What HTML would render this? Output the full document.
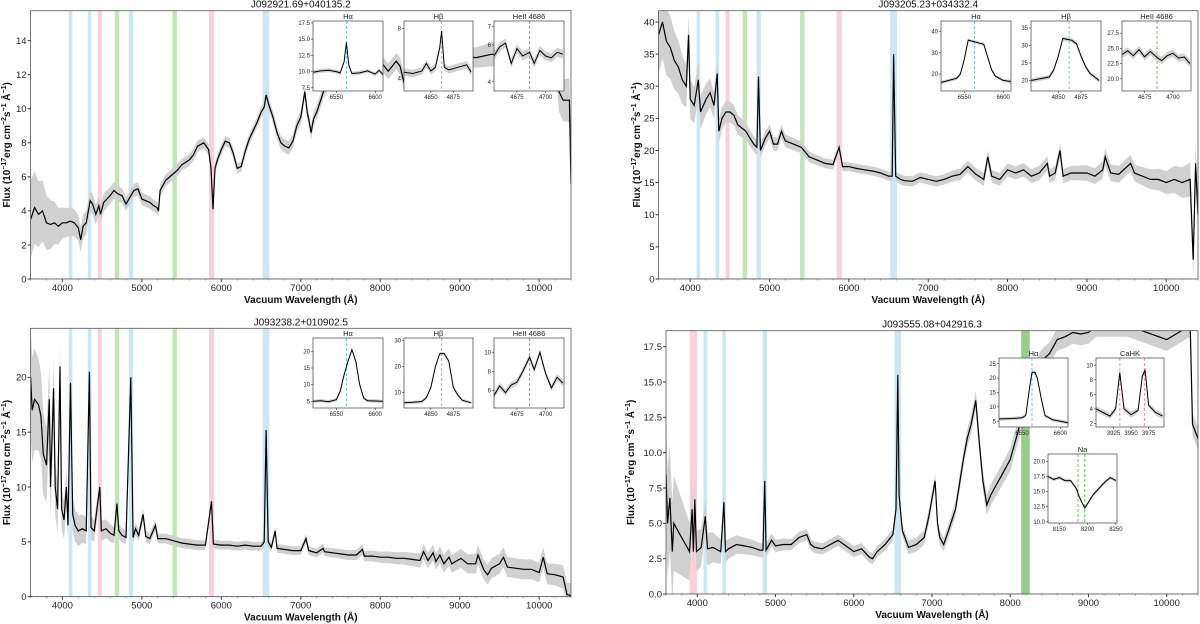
<!DOCTYPE html>
<html><head><meta charset="utf-8"><style>
body{margin:0;background:#fff}
svg{display:block;font-family:"Liberation Sans","DejaVu Sans",sans-serif}
</style></head><body>
<svg id="fig" width="1200" height="624" viewBox="0 0 1200 624"></svg>
<script>
// ---------- DATA ----------
const wl1=[3600,3650,3700,3750,3800,3850,3900,3950,4000,4050,4100,4150,4200,4230,4260,4300,4350,4380,4420,4460,4480,4520,4600,4650,4700,4750,4800,4850,4900,4950,5000,5100,5150,5190,5210,5230,5300,5400,5450,5500,5600,5650,5700,5780,5840,5870,5895,5920,5950,6000,6050,6100,6150,6200,6250,6300,6350,6400,6450,6500,6540,6563,6600,6650,6700,6750,6800,6850,6900,6950,7000,7050,7080,7100,7130,7160,7200,7250,7300,7400,7500,7600,7800,8000,8100,8200,8250,8300,8320,8400,8600,8800,9000,9200,9400,9600,9800,10000,10200,10250,10300,10380,10400];
const fl1=[3.5,4.2,3.8,4.0,3.3,3.2,3.3,3.1,3.3,3.3,3.4,3.3,3.0,2.3,3.1,3.3,4.6,4.4,3.8,4.3,3.8,4.5,4.9,5.2,5.0,4.9,4.4,4.8,5.2,5.3,4.7,4.5,4.3,4.2,4.0,5.2,5.8,6.2,6.4,6.7,7.0,7.3,7.8,8.0,7.6,6.5,4.1,6.5,7.0,7.6,8.1,8.0,7.4,6.5,6.6,7.5,8.2,8.7,9.2,9.8,10.1,10.8,10.2,9.5,8.6,8.0,7.8,7.7,8.1,9.0,9.5,11.0,9.8,9.4,8.6,9.4,9.8,10.5,11.2,12.0,12.3,12.6,12.5,12.8,12.2,12.8,12.5,11.5,12.8,13.0,12.8,13.0,13.2,13.0,13.2,13.2,13.5,13.8,13.5,11.0,10.5,10.5,5.6];
const err1=[2.3,0.9,0.6,0.4,0.35,0.35,0.3,0.3,0.4,0.4,0.45,0.45,0.5,0.6,0.6,0.8,1.0,1.3];

const wl2=[3600,3650,3700,3750,3800,3850,3900,3950,3980,4000,4050,4102,4130,4200,4250,4300,4340,4360,4400,4450,4500,4550,4600,4650,4700,4750,4800,4840,4861,4885,4950,5000,5050,5100,5150,5180,5200,5300,5400,5500,5600,5700,5800,5876,5920,6000,6100,6200,6300,6400,6500,6545,6563,6590,6650,6700,6800,6900,7000,7100,7200,7300,7400,7500,7600,7700,7750,7800,7900,8000,8100,8200,8300,8400,8500,8530,8600,8660,8700,8800,9000,9100,9200,9230,9300,9400,9550,9600,9700,9800,9900,10000,10100,10200,10300,10340,10370,10400];
const fl2=[38,40,37,36,34,33,31,30,38,28,27,31,26,28,29,27,32,23,25,26,26,25.5,24,23.5,23,22,21,20.5,31.5,20,22,23,21,21,23,22,21.5,21,20.5,19,18.5,18,17.8,20.5,17.5,17.5,17.2,17,16.8,16.5,16,16,35,16,15.5,15.3,15.2,15.8,15.5,15.2,15.5,16,16.3,17.5,16.3,15.5,19,16,15.5,17,16.5,17,16,16.5,18,16,16.5,20,16,16.5,16.5,16,17,19,16.5,16.3,18,16.5,16,15.5,15.5,15,15.5,15,15.5,3,18,10];
const err2=[6,3,1.8,1.2,1.0,0.8,0.7,0.7,0.8,0.8,1.0,1.0,1.1,1.1,1.3,1.3,1.8,3];

const wl3=[3600,3620,3650,3700,3730,3760,3800,3835,3850,3890,3910,3940,3970,3990,4020,4050,4070,4102,4130,4160,4200,4250,4300,4340,4360,4400,4471,4490,4550,4600,4650,4686,4710,4750,4800,4861,4890,4920,4960,5015,5050,5100,5170,5200,5300,5400,5500,5600,5700,5800,5876,5900,6000,6100,6200,6300,6400,6500,6540,6563,6590,6630,6678,6700,6800,6900,7000,7065,7100,7200,7280,7300,7400,7500,7600,7700,7775,7800,7900,8000,8100,8200,8300,8400,8500,8545,8600,8665,8700,8750,8800,8865,8900,9015,9100,9200,9230,9300,9350,9400,9500,9550,9600,9700,9800,9900,10000,10050,10100,10200,10300,10350,10400];
const fl3=[20,17,18,17.5,16.5,13,12,18,10,19,10,8,21,8,7,10,6.5,19.5,7.5,6.5,6.0,6.2,6.0,20.5,6.3,6.0,10,6,6.2,5.8,5.6,8.5,6,5.6,5.4,20,5.4,6.2,5.6,7.5,5.5,5.3,6.5,5.3,5.3,5.1,4.9,4.8,4.7,4.7,8.7,4.8,4.7,4.7,4.6,4.7,4.6,4.6,5,15.2,5,4.5,6.0,4.4,4.3,4.2,4.2,5.3,4.2,4.0,4.4,4.1,4.0,3.9,3.8,3.8,4.3,3.7,3.7,3.6,3.6,3.5,3.5,3.4,3.3,4.1,3.3,4.0,3.2,3.8,3.0,3.6,3.0,3.5,3.0,3.0,3.8,2.5,2.0,2.6,3.0,3.6,2.7,2.6,2.5,2.5,2.2,3.6,2.1,2.0,1.8,0.2,0.1];
const err3=[5,1.8,1.0,0.6,0.45,0.45,0.4,0.4,0.4,0.4,0.45,0.5,0.6,0.8,0.9,0.9,0.9,1.1];

const wl4=[3600,3620,3650,3680,3700,3750,3800,3850,3900,3934,3950,3968,3990,4050,4102,4130,4200,4300,4340,4360,4400,4500,4600,4700,4800,4840,4861,4880,4950,5000,5100,5200,5300,5400,5450,5500,5600,5700,5800,5900,6000,6100,6200,6240,6300,6400,6500,6540,6563,6580,6620,6700,6800,6900,6960,7040,7070,7100,7150,7200,7300,7400,7450,7500,7560,7600,7650,7700,7750,7800,7900,8000,8050,8100,8200,8300,8400,8500,8600,8700,8800,8900,9000,9100,9500,10000,10300,10330,10400];
const fl4=[8.5,5.0,6.8,3.0,5,4.5,4,3.5,3.0,6.0,3.0,6.7,3.0,3.3,5.5,3.2,3.3,3.0,6.5,3.0,3.2,3.5,3.4,3.3,3.1,3.1,8,3.1,3.8,3.4,3.5,3.5,4.0,4.2,3.5,3.3,3.2,3.5,3.8,3.4,3.0,3.2,2.6,2.5,3.0,3.5,4.2,6,15.5,7,4.5,3.3,3.5,4.0,5.5,8.0,5.0,4.0,3.5,4.3,6.0,9.5,11,12,13.7,11,8.0,6.3,7.0,7.5,8.5,9.5,10.5,11.5,14,15.5,16.5,17,18,18.2,18.5,18.4,18.5,19,19,18.0,19,12,11];
const err4=[4,1.4,0.7,0.5,0.4,0.4,0.4,0.4,0.5,0.5,0.7,0.8,0.8,0.8,0.8,0.8,0.8,0.8];

// inset data
const haX1=[6520,6530,6540,6550,6555,6560,6563,6566,6570,6580,6590,6600,6605,6610];
const haY1=[9.9,10.1,10.2,10.0,9.8,11.5,14.5,11.0,9.7,9.8,10.1,9.6,10.2,9.5];
const hbX1=[4820,4830,4840,4845,4850,4855,4860,4862,4865,4870,4880,4890,4895];
const hbY1=[4.5,4.4,4.6,5.2,4.6,4.9,6.5,7.8,4.9,4.7,4.9,5.1,4.5];
const heX1=[4655,4660,4665,4670,4675,4680,4686,4690,4695,4700,4705,4710,4715];
const heY1=[5.4,5.9,6.1,5.0,5.8,5.4,5.6,5.0,5.7,5.4,5.3,5.6,5.5];

const haX2=[6520,6530,6540,6545,6550,6555,6565,6575,6580,6585,6590,6600,6610];
const haY2=[16,17,18,20,27,36,35,34,28,22,19,17,16.5];
const hbX2=[4820,4830,4840,4845,4850,4855,4865,4870,4875,4880,4885,4895];
const hbY2=[20,20.5,21,23,27,32,31.5,30.5,27,24,22,20];
const heX2=[4655,4660,4665,4670,4675,4680,4686,4690,4695,4700,4705,4710,4715];
const heY2=[24,24.6,23.8,24.8,23.6,24.5,23.5,23.0,23.8,24.2,23.4,23.6,22.5];

const haX3=[6520,6530,6540,6550,6555,6560,6565,6570,6575,6580,6585,6590,6600,6610];
const haY3=[5,5.2,4.9,5.5,8,13,17,20.5,17,10,6,5.2,5.1,5.0];
const hbX3=[4820,4830,4840,4845,4850,4855,4860,4865,4870,4875,4880,4885,4895];
const hbY3=[6,6.2,6.5,8,12,20,25,25,22,12,9,7,6];
const heX3=[4655,4660,4665,4670,4675,4680,4686,4690,4695,4700,4705,4710,4715];
const heY3=[5.5,6.5,5.8,6.6,6.9,8.0,9.5,8.2,10.0,7.8,6.3,7.4,6.8];

const haX4=[6520,6530,6540,6550,6555,6560,6563,6567,6570,6575,6580,6590,6600,6610];
const haY4=[5.8,5.9,6.0,6.2,7,17,22,22,20,13,7,5.5,5.0,4.5];
const ckX4=[3900,3910,3920,3928,3934,3940,3950,3960,3966,3970,3975,3985,3995];
const ckY4=[4,3.5,3.0,4.0,9.0,4.0,3.2,3.8,8.5,9.3,4.5,3.5,3.0];
const naX4=[8130,8140,8150,8160,8170,8180,8185,8190,8195,8200,8210,8220,8230,8240,8250];
const naY4=[17.5,17.0,17.3,16.8,16.8,15.5,14.2,13.2,12.3,13.0,14.5,15.5,16.5,17.3,16.8];

const bandsA=[[4080,4125,'b'],[4320,4365,'b'],[4445,4495,'p'],[4660,4715,'g'],[4835,4890,'b'],[5385,5440,'g'],[5845,5910,'p'],[6520,6605,'b']];
const bandsB=[[3905,3995,'p'],[4080,4125,'b'],[4320,4365,'b'],[4835,4890,'b'],[6520,6605,'b'],[8140,8250,'G']];

// ---------- RENDER ----------
const NS='http://www.w3.org/2000/svg';
const svg=document.getElementById('fig');
function mk(tag,attrs,parent){const e=document.createElementNS(NS,tag);for(const k in attrs)e.setAttribute(k,attrs[k]);(parent||svg).appendChild(e);return e;}
const bandCol={b:'rgb(205,230,242)',p:'rgb(250,208,218)',g:'rgb(196,228,184)',G:'rgb(150,206,140)'};

function errAt(err,w){const i=(w-3600)/400;const a=Math.max(0,Math.min(17,Math.floor(i)));const b=Math.min(17,a+1);const t=Math.max(0,Math.min(1,i-a));return err[a]*(1-t)+err[b]*t;}

function panel(p){
  const g=mk('g',{});
  
  
  const X=w=>p.L+(w-3600)/(6800)*(p.R-p.L);
  const Y=f=>p.B-f/p.ymax*(p.B-p.T);
  const cid='c'+p.name;
  const cp=mk('clipPath',{id:cid},g);mk('rect',{x:p.L,y:p.T,width:p.R-p.L,height:p.B-p.T},cp);
  const inner=mk('g',{'clip-path':'url(#'+cid+')'},g);
  for(const b of p.bands){const r=mk('rect',{x:X(b[0]),y:p.T,width:X(b[1])-X(b[0]),height:p.B-p.T,fill:bandCol[b[2]]},inner);
    
    }
  let up=[],lo=[];
  p.wl.forEach((w,i)=>{const e=errAt(p.err,w);up.push(X(w).toFixed(1)+','+Y(p.fl[i]+e).toFixed(1));lo.push(X(w).toFixed(1)+','+Y(Math.max(-1,p.fl[i]-e)).toFixed(1));});
  const eb=mk('polygon',{points:up.concat(lo.reverse()).join(' '),fill:'#d0d0d0'},inner);
  
  
  const ln=mk('polyline',{points:p.wl.map((w,i)=>X(w).toFixed(1)+','+Y(p.fl[i]).toFixed(1)).join(' '),fill:'none',stroke:'#000','stroke-width':1.2},inner);
  
  
  mk('line',{x1:p.L,x2:p.R,y1:Y(0),y2:Y(0),stroke:'#4a7bb0','stroke-width':1,'stroke-dasharray':'3,2'},inner);
  mk('rect',{x:p.L,y:p.T,width:p.R-p.L,height:p.B-p.T,fill:'none',stroke:'#555','stroke-width':0.8},g);
  for(let w=4000;w<=10000;w+=1000){mk('line',{x1:X(w),x2:X(w),y1:p.B,y2:p.B+3,stroke:'#333'},g);
    const t=mk('text',{x:X(w),y:p.B+12,'font-size':9.5,'text-anchor':'middle',fill:'#222'},g);t.textContent=w;}
  for(let w=3600;w<=10400;w+=200){mk('line',{x1:X(w),x2:X(w),y1:p.B,y2:p.B+1.5,stroke:'#555','stroke-width':0.5},g);}
  for(const v of p.yt){mk('line',{x1:p.L-3,x2:p.L,y1:Y(v),y2:Y(v),stroke:'#333'},g);
    const t=mk('text',{x:p.L-4,y:Y(v)+3.3,'font-size':9.5,'text-anchor':'end',fill:'#222'},g);t.textContent=p.yfmt(v);}
  const xl=mk('text',{x:(p.L+p.R)/2,y:p.B+24,'font-size':10,'font-weight':'bold','text-anchor':'middle',fill:'#111'},g);
  xl.textContent='Vacuum Wavelength (Å)';
  
  
  const yl=mk('text',{x:0,y:0,'font-size':10,'font-weight':'bold','text-anchor':'middle',fill:'#111',transform:'translate('+p.yx+','+((p.T+p.B)/2)+') rotate(-90)'},g);
  yl.innerHTML='Flux (10<tspan dy="-4" font-size="7">−17</tspan><tspan dy="4">erg cm</tspan><tspan dy="-4" font-size="7">−2</tspan><tspan dy="4">s</tspan><tspan dy="-4" font-size="7">−1</tspan><tspan dy="4"> Å</tspan><tspan dy="-4" font-size="7">−1</tspan><tspan dy="4">)</tspan>';
  
  
  const tt=mk('text',{x:(p.L+p.R)/2,y:p.T-3,'font-size':10,'text-anchor':'middle',fill:'#111'},g);
  tt.textContent=p.title;
  
  
  for(const ins of p.insets) inset(ins,g);
}

function inset(s,parent){
  const g=mk('g',{},parent);
  
  
  const [x0,y0,x1,y1]=s.box;
  const X=w=>x0+(w-s.xr[0])/(s.xr[1]-s.xr[0])*(x1-x0);
  const Y=f=>y1-(f-s.yr[0])/(s.yr[1]-s.yr[0])*(y1-y0);
  mk('rect',{x:x0,y:y0,width:x1-x0,height:y1-y0,fill:'#fff'},g);
  const band=s.xs.map((w,i)=>X(w).toFixed(1)+','+Y(s.ys[i]+s.e).toFixed(1)).concat(s.xs.map((w,i)=>X(w).toFixed(1)+','+Y(s.ys[i]-s.e).toFixed(1)).reverse());
  mk('polygon',{points:band.join(' '),fill:'#d2d2d2'},g);
  for(const d of s.dash) mk('line',{x1:X(d),x2:X(d),y1:y0,y2:y1,stroke:s.dc,'stroke-width':1,'stroke-dasharray':'3,2'},g);
  const ln=mk('polyline',{points:s.xs.map((w,i)=>X(w).toFixed(1)+','+Y(s.ys[i]).toFixed(1)).join(' '),fill:'none',stroke:'#000','stroke-width':1},g);
  
  
  mk('rect',{x:x0,y:y0,width:x1-x0,height:y1-y0,fill:'none',stroke:'#555','stroke-width':0.8},g);
  for(const v of s.xt){mk('line',{x1:X(v),x2:X(v),y1:y1,y2:y1+2,stroke:'#333','stroke-width':0.6},g);
    const t=mk('text',{x:X(v),y:y1+8,'font-size':6,'text-anchor':'middle',fill:'#222'},g);t.textContent=v;}
  for(const v of s.yt){mk('line',{x1:x0-2,x2:x0,y1:Y(v),y2:Y(v),stroke:'#333','stroke-width':0.6},g);
    const t=mk('text',{x:x0-3,y:Y(v)+2,'font-size':6,'text-anchor':'end',fill:'#222'},g);t.textContent=s.yf?v.toFixed(1):v;}
  const tt=mk('text',{x:(x0+x1)/2,y:y0-2,'font-size':7.5,'text-anchor':'middle',fill:'#222'},g);
  tt.textContent=s.label;
}

const B1=[313,21,383,91],B2=[404,21,473,91],B3=[494,21,564,91];
const C1=[941,21,1011,91],C2=[1031,21,1101,91],C3=[1122,21,1191,91];
const D1=[313,338,383,408],D2=[404,338,473,408],D3=[494,338,564,408];

panel({name:'panel-j092921',title:'J092921.69+040135.2',L:30.6,R:571,T:10.7,B:279,ymax:15.76,yx:10,wl:wl1,fl:fl1,err:err1,bands:bandsA,yt:[0,2,4,6,8,10,12,14],yfmt:v=>v,
  insets:[{key:'halpha',label:'Hα',box:B1,xr:[6520,6610],yr:[7,17.8],xs:haX1,ys:haY1,e:0.3,dash:[6563],dc:'#7cc0e0',xt:[6550,6600],yt:[7.5,10,12.5,15,17.5],yf:1},
          {key:'hbeta',label:'Hβ',box:B2,xr:[4820,4897],yr:[3,8.6],xs:hbX1,ys:hbY1,e:0.3,dash:[4862],dc:'#7cc0e0',xt:[4850,4875],yt:[4,8]},
          {key:'heii',label:'HeII 4686',box:B3,xr:[4655,4716],yr:[3.5,7.3],xs:heX1,ys:heY1,e:0.25,dash:[4686],dc:'#6cbf5c',xt:[4675,4700],yt:[4,6,7]}]});
panel({name:'panel-j093205',title:'J093205.23+034332.4',L:658.5,R:1198,T:10.7,B:279,ymax:41.76,yx:640,wl:wl2,fl:fl2,err:err2,bands:bandsA,yt:[0,5,10,15,20,25,30,35,40],yfmt:v=>v,
  insets:[{key:'halpha',label:'Hα',box:C1,xr:[6520,6610],yr:[12,45],xs:haX2,ys:haY2,e:0.8,dash:[6563],dc:'#7cc0e0',xt:[6550,6600],yt:[20,30,40]},
          {key:'hbeta',label:'Hβ',box:C2,xr:[4820,4897],yr:[17,37],xs:hbX2,ys:hbY2,e:0.6,dash:[4862],dc:'#7cc0e0',xt:[4850,4875],yt:[20,25,30,35]},
          {key:'heii',label:'HeII 4686',box:C3,xr:[4655,4716],yr:[18,29.5],xs:heX2,ys:heY2,e:0.6,dash:[4686],dc:'#6cbf5c',xt:[4675,4700],yt:[20,22.5,25,27.5],yf:1}]});
panel({name:'panel-j093238',title:'J093238.2+010902.5',L:30.6,R:571,T:328.3,B:596.7,ymax:24.47,yx:10,wl:wl3,fl:fl3,err:err3,bands:bandsA,yt:[0,5,10,15,20],yfmt:v=>v,
  insets:[{key:'halpha',label:'Hα',box:D1,xr:[6520,6610],yr:[3,24],xs:haX3,ys:haY3,e:0.5,dash:[6563],dc:'#7cc0e0',xt:[6550,6600],yt:[5,10,15,20]},
          {key:'hbeta',label:'Hβ',box:D2,xr:[4820,4897],yr:[4,31],xs:hbX3,ys:hbY3,e:0.6,dash:[4862],dc:'#7cc0e0',xt:[4850,4875],yt:[10,20,30]},
          {key:'heii',label:'HeII 4686',box:D3,xr:[4655,4716],yr:[4.2,11.5],xs:heX3,ys:heY3,e:0.35,dash:[4686],dc:'#6cbf5c',xt:[4675,4700],yt:[6,8,10]}]});
panel({name:'panel-j093555',title:'J093555.08+042916.3',L:666,R:1198,T:330.7,B:594,ymax:18.63,yx:634,wl:wl4,fl:fl4,err:err4,bands:bandsB,yt:[0,2.5,5,7.5,10,12.5,15,17.5],yfmt:v=>v.toFixed(1),
  insets:[{key:'halpha',label:'Hα',box:[999,358,1068,427],xr:[6520,6610],yr:[3,27],xs:haX4,ys:haY4,e:0.6,dash:[6563],dc:'#7cc0e0',xt:[6550,6600],yt:[5,10,15,20,25]},
          {key:'cahk',label:'CaHK',box:[1096,358,1164,427],xr:[3900,3997],yr:[1.5,11],xs:ckX4,ys:ckY4,e:0.4,dash:[3934,3969],dc:'#f08aa0',xt:[3925,3950,3975],yt:[2,4,6,8,10]},
          {key:'na',label:'Na',box:[1048,454,1117,523],xr:[8130,8252],yr:[9.8,21.2],xs:naX4,ys:naY4,e:0.3,dash:[8183,8195],dc:'#6cbf5c',xt:[8150,8200,8250],yt:[10,12.5,15,17.5,20],yf:1}]});
</script>
</body></html>
